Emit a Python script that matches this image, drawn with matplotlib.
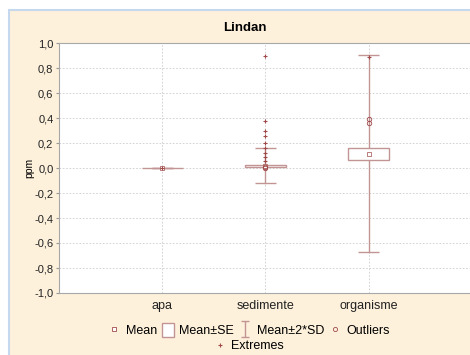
import numpy as np
import matplotlib.pyplot as plt
from matplotlib.patches import Rectangle
from matplotlib.lines import Line2D
from matplotlib.path import Path

plt.rcParams['font.family'] = ['Liberation Sans', 'DejaVu Sans']

categories = ['apa', 'sedimente', 'organisme']
means = [0.0, 0.02, 0.115]
se = [0.0, 0.008, 0.047]
sd2 = [0.0, 0.137, 0.786]
outliers = [[], [0.0, 0.012], [0.36, 0.395]]
extremes = [[0.0], [0.055, 0.087, 0.12, 0.16, 0.20, 0.253, 0.30, 0.373, 0.895], [0.885]]

line_col = '#c29494'
mark_col = '#a04a4a'
bg = '#fdf1dc'

fig = plt.figure(figsize=(4.7, 3.55), dpi=100)
fig.patch.set_facecolor('white')
fig.patches.append(Rectangle((9 / 470, -0.1), 1.1, 0.1 + 345 / 355, transform=fig.transFigure,
                             facecolor=bg, edgecolor='#c6d8ee', lw=1.5, zorder=-10))

ax = fig.add_axes([59 / 470, 62 / 355, 413 / 470, 250 / 355])
ax.set_facecolor('white')

x = np.arange(1, len(categories) + 1)
for i, xi in enumerate(x):
    m, s, d = means[i], se[i], sd2[i]
    ax.plot([xi, xi], [m - d, m + d], color=line_col, lw=1, zorder=3)
    ax.hlines([m - d, m + d], xi - 0.1, xi + 0.1, color=line_col, lw=1, zorder=3)
    ax.add_patch(Rectangle((xi - 0.2, m - s), 0.4, 2 * s, facecolor='white',
                           edgecolor=line_col, lw=1, zorder=4))
    ax.plot([xi], [m], marker='s', ms=2.5, mfc='white', mec=mark_col, mew=0.5, zorder=5)
    if outliers[i]:
        ax.plot([xi] * len(outliers[i]), outliers[i], 'o', ms=3.2, mfc='none',
                mec=mark_col, mew=0.6, zorder=6)
    ax.plot([xi] * len(extremes[i]), extremes[i], '+', ms=3.5, color=mark_col,
            mew=0.8, zorder=7)

ax.set_xlim(0, 4)
ax.set_ylim(-1.0, 1.0)
ax.set_xticks(x)
ax.set_xticklabels(categories, fontsize=9)
yt = np.arange(-1.0, 1.01, 0.2)
ax.set_yticks(yt)
ax.set_yticklabels([('%.1f' % v).replace('-0.0', '0.0').replace('.', ',') for v in yt], fontsize=8)
ax.tick_params(axis='x', length=0, pad=5, colors='#222222')
ax.tick_params(axis='y', length=2, pad=2, colors='#222222', color='#999999')
ax.grid(True, linestyle=(0, (2, 2)), color='#cccccc', lw=0.6)
ax.set_axisbelow(True)
for sp in ax.spines.values():
    sp.set_color('#a8a8a8')
ax.spines['right'].set_visible(False)
ax.set_ylabel('ppm', fontsize=7.5, labelpad=0)

fig.text(245 / 470, 1 - 28 / 355, 'Lindan', ha='center', va='center', fontsize=9.5,
         fontweight='bold')

ibeam = Path([(-0.5, 1), (0.5, 1), (0, 1), (0, -1), (-0.5, -1), (0.5, -1)],
             [Path.MOVETO, Path.LINETO, Path.MOVETO, Path.LINETO, Path.MOVETO, Path.LINETO])
h_mean = Line2D([], [], marker='s', ms=3, mfc='white', mec=mark_col, mew=0.6, ls='none')
h_se = Rectangle((0, 0), 1, 1, facecolor='white', edgecolor=line_col, lw=1)
h_sd = Line2D([], [], marker=ibeam, ms=11, mec=line_col, mew=1, ls='none')
h_out = Line2D([], [], marker='o', ms=3, mfc='none', mec=mark_col, mew=0.6, ls='none')
h_ext = Line2D([], [], marker='+', ms=3.5, color=mark_col, mew=0.8, ls='none')

fig.legend([h_mean, h_se, h_sd, h_out], ['Mean', 'Mean±SE', 'Mean±2*SD', 'Outliers'],
           ncol=4, loc='center', bbox_to_anchor=(249 / 470, 1 - 330 / 355), frameon=False,
           fontsize=9, handlelength=1.0, handletextpad=0.4, columnspacing=0.4,
           handleheight=1.3)
fig.legend([h_ext], ['Extremes'], loc='center', bbox_to_anchor=(249 / 470, 1 - 346 / 355),
           frameon=False, fontsize=9, handlelength=1.0, handletextpad=0.4)

fig.savefig('out.png', dpi=100, facecolor=fig.get_facecolor())
